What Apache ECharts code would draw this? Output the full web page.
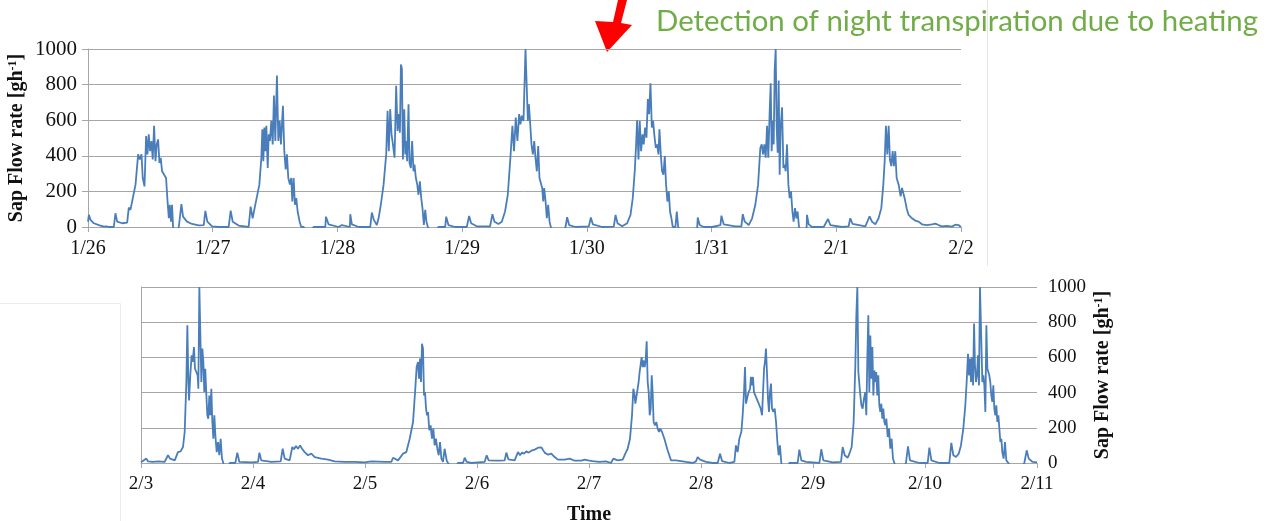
<!DOCTYPE html>
<html>
<head>
<meta charset="utf-8">
<script src="https://cdn.jsdelivr.net/npm/echarts@6/dist/echarts.min.js"></script>
<style>
  html, body { margin: 0; padding: 0; background: #fff; }
  #main { width: 1273px; height: 521px; }
</style>
</head>
<body>
<div id="main"></div>
<script>
// tick labels (one per day)
var topDays = ['1/26', '1/27', '1/28', '1/29', '1/30', '1/31', '2/1', '2/2'];
var bottomDays = ['2/3', '2/4', '2/5', '2/6', '2/7', '2/8', '2/9', '2/10', '2/11'];
var yTicks = [0, 200, 400, 600, 800, 1000];

// sap flow [g/h], x = days since first tick; negatives fall below the axis and get clipped
var topFlow = [
  [0.000, 30], [0.007, 68], [0.020, 40], [0.047, 21], [0.087, 11], [0.127, 2], [0.140, 11], [0.150, 3],
  [0.167, 0], [0.207, 0], [0.220, 77], [0.234, 30], [0.274, 21], [0.314, 25], [0.327, 109], [0.340, 96],
  [0.354, 143], [0.381, 238], [0.402, 408], [0.415, 379], [0.429, 408], [0.439, 275], [0.453, 228],
  [0.466, 511], [0.477, 408], [0.487, 521], [0.498, 426], [0.509, 483], [0.519, 379], [0.530, 568],
  [0.541, 370], [0.551, 464], [0.562, 492], [0.573, 360], [0.583, 389], [0.594, 313], [0.610, 304],
  [0.626, 275], [0.637, 153], [0.648, 49], [0.656, 125], [0.666, 30], [0.674, 125], [0.682, 0],
  [0.705, -30], [0.728, 0], [0.749, 128], [0.762, 58], [0.794, 30], [0.834, 17], [0.888, 9], [0.928, 11],
  [0.941, 91], [0.957, 30], [0.995, 4], [1.048, 0], [1.128, 0], [1.144, 92], [1.160, 30], [1.208, 8],
  [1.288, 0], [1.304, 115], [1.320, 49], [1.336, 106], [1.355, 172], [1.374, 238], [1.390, 389],
  [1.398, 549], [1.406, 370], [1.414, 559], [1.422, 426], [1.430, 568], [1.441, 332], [1.449, 521],
  [1.459, 483], [1.470, 596], [1.481, 464], [1.491, 738], [1.502, 483], [1.515, 851], [1.526, 483],
  [1.537, 596], [1.547, 464], [1.563, 681], [1.574, 426], [1.585, 323], [1.595, 408], [1.606, 275],
  [1.619, 238], [1.630, 275], [1.638, 143], [1.649, 275], [1.659, 125], [1.670, 162], [1.681, 87],
  [1.697, 30], [1.710, 0], [1.729, 0], [1.770, -50], [1.809, 0], [1.903, 0], [1.908, 58], [1.929, 15],
  [2.009, 0], [2.036, 11], [2.049, 0], [2.100, 0], [2.103, 72], [2.116, 15], [2.170, 0], [2.263, 0],
  [2.276, 81], [2.292, 40], [2.316, 11], [2.330, 49], [2.348, 125], [2.370, 238], [2.391, 408],
  [2.402, 653], [2.412, 426], [2.423, 662], [2.434, 521], [2.445, 464], [2.458, 389], [2.471, 794],
  [2.482, 540], [2.493, 634], [2.501, 530], [2.509, 913], [2.517, 889], [2.525, 379], [2.536, 662],
  [2.544, 408], [2.552, 483], [2.559, 370], [2.570, 690], [2.578, 360], [2.589, 332], [2.599, 483],
  [2.610, 313], [2.618, 351], [2.629, 275], [2.640, 238], [2.650, 181], [2.661, 257], [2.672, 162],
  [2.682, 106], [2.693, 11], [2.704, 96], [2.714, 30], [2.725, 0], [2.770, -50], [2.810, 0], [2.864, 0],
  [2.872, 58], [2.890, 11], [2.944, 0], [3.037, 0], [3.056, 62], [3.072, 21], [3.117, 4], [3.224, 4],
  [3.243, 72], [3.259, 30], [3.291, 17], [3.318, 30], [3.344, 87], [3.366, 181], [3.387, 389],
  [3.403, 568], [3.416, 426], [3.430, 615], [3.443, 483], [3.457, 634], [3.467, 577], [3.478, 625],
  [3.492, 596], [3.508, 1000], [3.519, 990], [3.527, 596], [3.535, 690], [3.546, 577], [3.556, 464],
  [3.567, 408], [3.578, 483], [3.588, 389], [3.599, 313], [3.610, 455], [3.620, 275], [3.631, 285],
  [3.642, 219], [3.650, 143], [3.658, 219], [3.669, 143], [3.679, 49], [3.690, 125], [3.701, 30],
  [3.711, 0], [3.770, -60], [3.829, 0], [3.842, 55], [3.858, 11], [3.909, 0], [4.016, 4], [4.032, 53],
  [4.048, 15], [4.123, 0], [4.216, 2], [4.230, 68], [4.246, 21], [4.283, 4], [4.323, 21], [4.350, 68],
  [4.368, 162], [4.384, 313], [4.395, 464], [4.403, 600], [4.414, 379], [4.424, 596], [4.435, 426],
  [4.446, 521], [4.456, 464], [4.467, 559], [4.478, 502], [4.489, 719], [4.499, 634], [4.510, 808],
  [4.521, 559], [4.531, 596], [4.542, 511], [4.553, 445], [4.563, 464], [4.574, 408], [4.582, 549],
  [4.593, 408], [4.603, 313], [4.614, 294], [4.625, 398], [4.635, 238], [4.646, 143], [4.657, 200],
  [4.667, 87], [4.678, 49], [4.689, 0], [4.710, 0], [4.721, 87], [4.732, 0], [4.810, -60], [4.885, 0],
  [4.889, 53], [4.905, 11], [4.937, 0], [5.004, 0], [5.071, 11], [5.079, 64], [5.097, 15], [5.191, 4],
  [5.239, 4], [5.250, 72], [5.266, 30], [5.298, 11], [5.325, 49], [5.351, 125], [5.373, 238],
  [5.391, 445], [5.402, 464], [5.413, 408], [5.423, 464], [5.434, 389], [5.445, 568], [5.455, 389],
  [5.466, 653], [5.474, 808], [5.482, 426], [5.490, 596], [5.498, 464], [5.506, 879], [5.514, 1000],
  [5.522, 559], [5.530, 417], [5.538, 823], [5.546, 294], [5.554, 559], [5.565, 672], [5.576, 332],
  [5.586, 351], [5.594, 313], [5.605, 464], [5.616, 238], [5.626, 162], [5.637, 200], [5.648, 87],
  [5.658, 30], [5.669, 106], [5.680, 49], [5.690, 87], [5.701, 0], [5.712, 0], [5.740, -40], [5.762, 0],
  [5.765, 68], [5.779, 15], [5.805, 0], [5.899, 0], [5.934, 45], [5.952, 11], [6.046, 0], [6.099, 4],
  [6.112, 49], [6.131, 17], [6.233, 4], [6.267, 60], [6.286, 30], [6.313, 15], [6.339, 49], [6.361, 106],
  [6.377, 238], [6.388, 370], [6.398, 568], [6.409, 408], [6.420, 568], [6.430, 379], [6.441, 342],
  [6.452, 426], [6.462, 342], [6.473, 426], [6.484, 275], [6.500, 238], [6.516, 172], [6.527, 219],
  [6.537, 228], [6.548, 162], [6.564, 106], [6.580, 68], [6.607, 49], [6.633, 36], [6.660, 30],
  [6.687, 15], [6.727, 11], [6.767, 15], [6.794, 19], [6.820, 11], [6.847, 4], [6.887, 6], [6.927, 2],
  [6.954, 13], [6.980, 11], [7.000, 0]
];

var bottomFlow = [
  [0.000, 4], [0.048, 25], [0.063, 9], [0.107, 6], [0.152, 9], [0.211, 6], [0.241, 44], [0.259, 25],
  [0.301, 15], [0.330, 62], [0.354, 66], [0.375, 91], [0.390, 176], [0.405, 460], [0.414, 782],
  [0.423, 460], [0.429, 356], [0.440, 498], [0.452, 612], [0.461, 574], [0.473, 659], [0.482, 536],
  [0.494, 517], [0.506, 498], [0.512, 422], [0.521, 1000], [0.530, 1000], [0.539, 460], [0.548, 650],
  [0.557, 574], [0.565, 403], [0.574, 536], [0.583, 394], [0.592, 271], [0.601, 252], [0.610, 384],
  [0.619, 271], [0.628, 422], [0.637, 233], [0.646, 138], [0.655, 271], [0.664, 157], [0.676, 62],
  [0.688, 119], [0.699, 44], [0.711, 138], [0.723, 25], [0.735, 0], [0.760, -60], [0.792, 0], [0.842, 0],
  [0.860, 59], [0.878, 6], [0.985, 4], [1.045, 6], [1.057, 59], [1.074, 15], [1.164, 6], [1.247, 9],
  [1.265, 81], [1.283, 25], [1.327, 15], [1.342, 25], [1.351, 91], [1.366, 78], [1.384, 97], [1.402, 81],
  [1.420, 100], [1.438, 81], [1.461, 62], [1.491, 44], [1.521, 53], [1.551, 34], [1.610, 25], [1.670, 19],
  [1.729, 9], [1.818, 6], [1.908, 6], [1.997, 4], [2.057, 9], [2.176, 6], [2.235, 6], [2.250, 30],
  [2.295, 15], [2.339, 53], [2.369, 62], [2.399, 138], [2.429, 233], [2.449, 422], [2.461, 545],
  [2.473, 574], [2.482, 479], [2.491, 593], [2.500, 460], [2.509, 678], [2.518, 650], [2.527, 384],
  [2.536, 403], [2.545, 309], [2.554, 271], [2.563, 290], [2.574, 186], [2.586, 214], [2.598, 138],
  [2.610, 195], [2.622, 100], [2.633, 138], [2.646, 81], [2.658, 44], [2.670, 119], [2.682, 25],
  [2.696, 6], [2.711, 81], [2.729, 15], [2.741, 0], [2.790, -40], [2.830, 0], [2.875, 0], [2.890, 30],
  [2.908, 6], [2.949, 0], [3.068, 6], [3.086, 44], [3.104, 15], [3.188, 13], [3.247, 15], [3.262, 59],
  [3.280, 21], [3.336, 15], [3.366, 62], [3.384, 44], [3.402, 59], [3.420, 53], [3.440, 66], [3.461, 59],
  [3.485, 70], [3.515, 76], [3.545, 87], [3.574, 89], [3.589, 81], [3.604, 59], [3.634, 47], [3.664, 53],
  [3.693, 34], [3.723, 19], [3.783, 19], [3.827, 25], [3.872, 13], [3.932, 13], [3.961, 19], [3.991, 15],
  [4.003, 19], [4.033, 11], [4.092, 6], [4.152, 9], [4.196, 0], [4.217, 25], [4.256, 15], [4.301, 19],
  [4.324, 53], [4.345, 81], [4.366, 138], [4.384, 271], [4.396, 422], [4.405, 394], [4.414, 337],
  [4.423, 375], [4.432, 366], [4.443, 460], [4.452, 517], [4.461, 517], [4.470, 602], [4.479, 545],
  [4.488, 583], [4.497, 545], [4.506, 583], [4.515, 691], [4.524, 460], [4.533, 403], [4.542, 271],
  [4.551, 309], [4.560, 498], [4.568, 403], [4.577, 233], [4.589, 214], [4.601, 233], [4.613, 195],
  [4.625, 176], [4.637, 195], [4.652, 176], [4.673, 138], [4.702, 72], [4.732, 15], [4.747, 25],
  [4.777, 15], [4.821, 11], [4.866, 6], [4.926, 0], [4.955, 9], [4.970, 34], [4.991, 19], [5.045, 6],
  [5.104, 0], [5.149, 0], [5.170, 53], [5.188, 11], [5.253, 0], [5.298, 6], [5.312, 100], [5.327, 62],
  [5.342, 138], [5.360, 176], [5.372, 271], [5.384, 403], [5.393, 545], [5.402, 337], [5.414, 375],
  [5.426, 403], [5.438, 422], [5.446, 489], [5.455, 441], [5.464, 489], [5.473, 403], [5.485, 384],
  [5.497, 366], [5.509, 347], [5.521, 328], [5.533, 309], [5.545, 271], [5.554, 403], [5.563, 536],
  [5.571, 574], [5.580, 650], [5.589, 517], [5.598, 366], [5.607, 290], [5.616, 403], [5.625, 451],
  [5.634, 309], [5.646, 290], [5.658, 309], [5.670, 233], [5.682, 119], [5.693, 44], [5.705, 100],
  [5.717, 0], [5.750, -50], [5.789, 0], [5.863, 0], [5.878, 76], [5.896, 15], [5.938, 6], [6.057, 0],
  [6.074, 78], [6.092, 15], [6.176, 4], [6.250, 6], [6.265, 91], [6.283, 44], [6.310, 30], [6.330, 62],
  [6.345, 91], [6.363, 233], [6.378, 555], [6.387, 839], [6.396, 1000], [6.405, 517], [6.420, 403],
  [6.432, 328], [6.443, 309], [6.455, 366], [6.467, 403], [6.476, 271], [6.485, 593], [6.494, 839],
  [6.503, 403], [6.512, 725], [6.521, 479], [6.530, 659], [6.539, 384], [6.548, 526], [6.557, 460],
  [6.565, 517], [6.574, 384], [6.583, 498], [6.592, 328], [6.601, 290], [6.610, 337], [6.619, 252],
  [6.628, 309], [6.637, 233], [6.646, 214], [6.655, 252], [6.667, 148], [6.679, 195], [6.690, 81],
  [6.702, 138], [6.714, 25], [6.726, 0], [6.780, -60], [6.830, 0], [6.848, 95], [6.866, 15], [6.949, 0],
  [7.024, 0], [7.039, 87], [7.057, 15], [7.128, 0], [7.217, 0], [7.235, 114], [7.253, 44], [7.277, 34],
  [7.301, 53], [7.321, 100], [7.342, 195], [7.360, 328], [7.372, 460], [7.384, 621], [7.393, 498],
  [7.402, 593], [7.411, 460], [7.420, 602], [7.429, 441], [7.438, 792], [7.446, 555], [7.455, 460],
  [7.464, 498], [7.473, 612], [7.482, 441], [7.491, 1000], [7.503, 1000], [7.512, 460], [7.521, 498],
  [7.530, 441], [7.539, 290], [7.548, 782], [7.557, 536], [7.565, 545], [7.574, 498], [7.583, 460],
  [7.592, 384], [7.601, 347], [7.610, 441], [7.619, 309], [7.628, 271], [7.637, 328], [7.646, 233],
  [7.655, 271], [7.664, 195], [7.673, 119], [7.682, 138], [7.690, 62], [7.702, 25], [7.714, 119],
  [7.726, 15], [7.744, 0], [7.810, -60], [7.887, 0], [7.908, 72], [7.926, 25], [7.961, 6], [8.000, 4]
];

var serif = '"Liberation Serif", "Times New Roman", serif';
var gray = '#a6a6a6';
var blue = '#4a7ebb';

var myChart = echarts.init(document.getElementById('main'));

function xAxisFor(grid, labels, size) {
  return {
    gridIndex: grid,
    type: 'value',
    min: 0,
    max: labels.length - 1,
    interval: 1,
    axisLine: { lineStyle: { color: gray, width: 1 } },
    axisTick: { length: 5, lineStyle: { color: gray } },
    splitLine: { show: false },
    axisLabel: {
      formatter: function (v) { return labels[v]; },
      fontFamily: serif,
      fontSize: size,
      color: '#111',
      margin: 12
    }
  };
}

var yName = '{t|Sap Flow rate [gh}{s|-1}{t|]}';
var yNameStyle = {
  rich: {
    t: { fontFamily: serif, fontWeight: 'bold', fontSize: 20, color: '#111' },
    s: { fontFamily: serif, fontWeight: 'bold', fontSize: 12, color: '#111', verticalAlign: 'top' }
  }
};

function yAxisFor(grid, side, size, gap) {
  return {
    gridIndex: grid,
    type: 'value',
    position: side,
    min: yTicks[0],
    max: yTicks[yTicks.length - 1],
    interval: yTicks[1] - yTicks[0],
    name: yName,
    nameLocation: 'middle',
    nameRotate: 90,
    nameGap: gap,
    nameMoveOverlap: false,
    nameTextStyle: yNameStyle,
    axisLine: { show: true, lineStyle: { color: gray } },
    axisTick: { show: true, length: 6, lineStyle: { color: gray } },
    splitLine: { lineStyle: { color: gray, width: 1 } },
    axisLabel: {
      formatter: function (v) { return String(v); },
      fontFamily: serif, fontSize: size, color: '#111', margin: 11
    }
  };
}

var bottomX = xAxisFor(1, bottomDays, 19);
bottomX.name = 'Time';
bottomX.nameLocation = 'middle';
bottomX.nameGap = 42;
bottomX.nameTextStyle = { fontFamily: serif, fontWeight: 'bold', fontSize: 20, color: '#111' };

var option = {
  animation: false,
  grid: [
    { left: 88, top: 49, width: 873, height: 178, outerBoundsMode: 'none' },
    { left: 141, top: 287, width: 896, height: 176, outerBoundsMode: 'none' }
  ],
  xAxis: [xAxisFor(0, topDays, 20), bottomX],
  yAxis: [yAxisFor(0, 'left', 21, 61), yAxisFor(1, 'right', 19, 56)],
  series: [
    {
      type: 'line', xAxisIndex: 0, yAxisIndex: 0, data: topFlow,
      showSymbol: false, clip: true,
      lineStyle: { color: blue, width: 1.8 }
    },
    {
      type: 'line', xAxisIndex: 1, yAxisIndex: 1, data: bottomFlow,
      showSymbol: false, clip: true,
      lineStyle: { color: blue, width: 1.8 }
    }
  ],
  graphic: [
    // faint frame edges of the pasted figures
    { type: 'line', shape: { x1: 987.5, y1: 0, x2: 987.5, y2: 266 }, style: { stroke: '#e6e6e6', lineWidth: 1 } },
    { type: 'line', shape: { x1: 0, y1: 303.5, x2: 120.5, y2: 303.5 }, style: { stroke: '#ececec', lineWidth: 1 } },
    { type: 'line', shape: { x1: 120.5, y1: 303.5, x2: 120.5, y2: 521 }, style: { stroke: '#ececec', lineWidth: 1 } },
    // red arrow
    {
      type: 'polygon',
      shape: { points: [[618, 0], [627, 0], [621, 23], [632, 25], [607, 52], [595, 21], [613, 22]] },
      style: { fill: '#ff0000' }
    },
    {
      type: 'text', left: 656, top: 7,
      style: {
        text: 'Detection of night transpiration due to heating',
        fontFamily: 'Lato, "Open Sans", sans-serif',
        fontSize: 29.4,
        fill: '#70ad47'
      }
    }
  ]
};

option && myChart.setOption(option);
</script>
</body>
</html>
